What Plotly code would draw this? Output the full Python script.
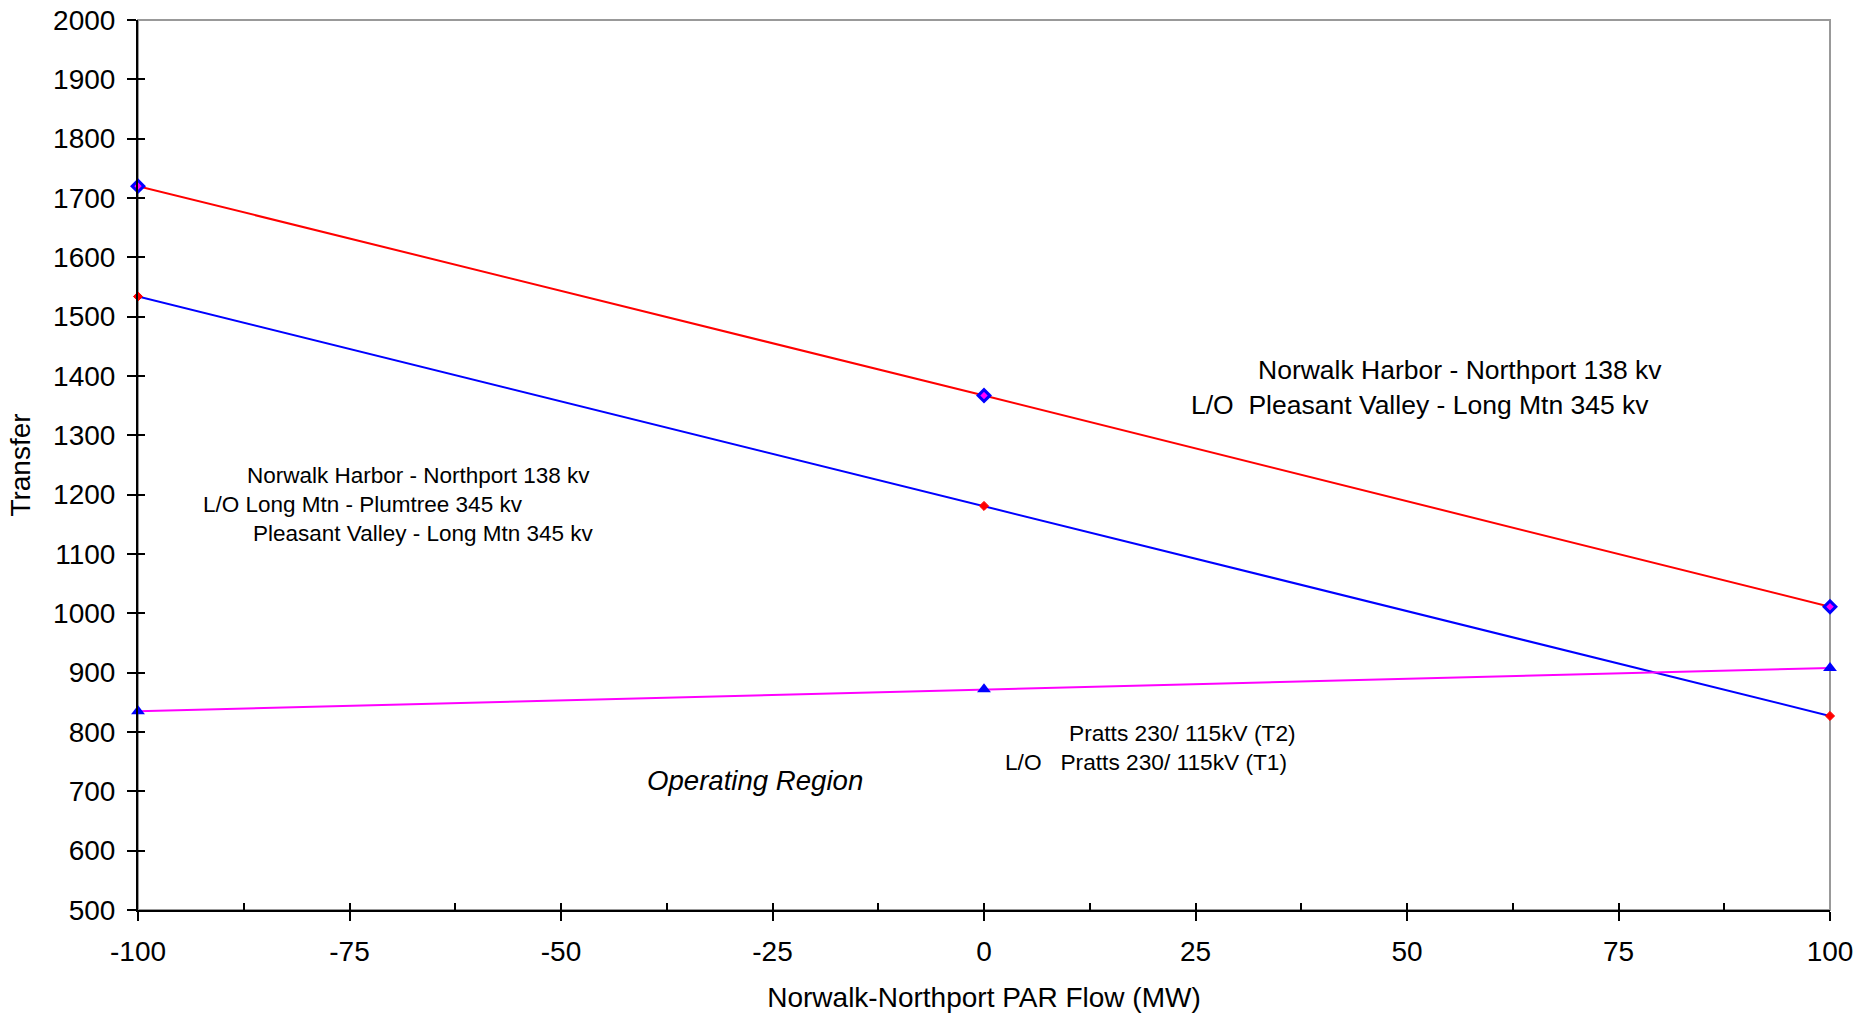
import plotly.graph_objects as go

# Data
par_flow = [-100, 0, 100]
transfer_pv_lm = [1720, 1367, 1011]        # red line (L/O Pleasant Valley - Long Mtn)
transfer_lm_pt = [1534, 1181, 827]         # blue line (L/O Long Mtn - Plumtree)
transfer_pratts = [835, 872, 908]          # magenta line (L/O Pratts T1)

x_ticks = [-100, -75, -50, -25, 0, 25, 50, 75, 100]
x_minor = [-87.5, -62.5, -37.5, -12.5, 12.5, 37.5, 62.5, 87.5]
y_ticks = list(range(500, 2001, 100))

FONT = "Arial, Liberation Sans, sans-serif"

fig = go.Figure()

fig.add_trace(go.Scatter(
    x=par_flow, y=transfer_pv_lm, mode="lines+markers",
    line=dict(color="#ff0000", width=2),
    marker=dict(symbol="diamond", size=9, color="#ff00ff", line=dict(color="#0000ff", width=3)),
    cliponaxis=False, showlegend=False))
fig.add_trace(go.Scatter(
    x=par_flow, y=transfer_lm_pt, mode="lines+markers",
    line=dict(color="#0000ff", width=2),
    marker=dict(symbol="diamond", size=7, color="#ff0000", line=dict(color="#ff0000", width=1)),
    cliponaxis=False, showlegend=False))
fig.add_trace(go.Scatter(
    x=par_flow, y=transfer_pratts, mode="lines+markers",
    line=dict(color="#ff00ff", width=2),
    marker=dict(symbol="triangle-up", size=12, color="#0000ff"),
    cliponaxis=False, showlegend=False))

# invisible trace for overlay axes
fig.add_trace(go.Scatter(x=[None], y=[None], xaxis="x2", yaxis="y2", showlegend=False, hoverinfo="skip"))

annotations = [
    ("Norwalk Harbor - Northport 138 kv", 32.1, 1410, 26.5),
    ("L/O  Pleasant Valley - Long Mtn 345 kv", 24.2, 1351, 26.5),
    ("Norwalk Harbor - Northport 138 kv", -87.3, 1233, 22.5),
    ("L/O Long Mtn - Plumtree 345 kv", -92.5, 1183, 22.5),
    ("Pleasant Valley - Long Mtn 345 kv", -86.6, 1135, 22.5),
    ("Pratts 230/ 115kV (T2)", 9.8, 798, 22.7),
    ("L/O   Pratts 230/ 115kV (T1)", 2.3, 749, 22.7),
    ("<i>Operating Region</i>", -40.1, 719, 27.6),
]
for text, ax, ay, size in annotations:
    fig.add_annotation(x=ax, y=ay, xref="x", yref="y", text=text, showarrow=False,
                       xanchor="left", yanchor="middle",
                       font=dict(family=FONT, size=size, color="black"))

# gray plot-area border (top/right)
fig.add_shape(type="rect", xref="paper", yref="paper", x0=0, y0=0, x1=1, y1=1,
              line=dict(color="#999999", width=2), layer="below")

fig.update_layout(
    width=1876, height=1016,
    margin=dict(l=138, r=46, t=20, b=106, autoexpand=False),
    paper_bgcolor="white", plot_bgcolor="white",
    font=dict(family=FONT, size=28, color="black"),
    xaxis=dict(range=[-100, 100], tickvals=x_ticks, ticktext=[str(v) for v in x_ticks],
               showgrid=False, zeroline=False, showline=True, linecolor="black", linewidth=2,
               ticks="outside", ticklen=9, tickwidth=1.5, tickcolor="black", automargin=False,
               tickfont=dict(size=28), ticklabelstandoff=6,
               title=dict(text="Norwalk-Northport PAR Flow (MW)", font=dict(size=28), standoff=22)),
    yaxis=dict(range=[500, 2000], tickvals=y_ticks, ticktext=[str(v) for v in y_ticks],
               showgrid=False, zeroline=False, showline=True, linecolor="black", linewidth=2,
               ticks="outside", ticklen=9, tickwidth=1.5, tickcolor="black", automargin=False,
               tickfont=dict(size=28), ticklabelstandoff=6,
               title=dict(text="Transfer", font=dict(size=28), standoff=14)),
    xaxis2=dict(range=[-100, 100], overlaying="x", side="bottom", tickvals=x_ticks,
                showticklabels=False, showgrid=False, zeroline=False, showline=False,
                ticks="inside", ticklen=7, tickwidth=1.5, tickcolor="black", automargin=False,
                minor=dict(ticks="inside", tickvals=x_minor,
                           ticklen=7, tickwidth=1.5, tickcolor="black")),
    yaxis2=dict(range=[500, 2000], overlaying="y", side="left", tickvals=y_ticks,
                showticklabels=False, showgrid=False, zeroline=False, showline=False,
                ticks="inside", ticklen=7, tickwidth=1.5, tickcolor="black", automargin=False),
)

fig.write_html("out.html", config={"displayModeBar": False},
               post_script="document.body.style.margin='0';document.body.style.padding='0';")
